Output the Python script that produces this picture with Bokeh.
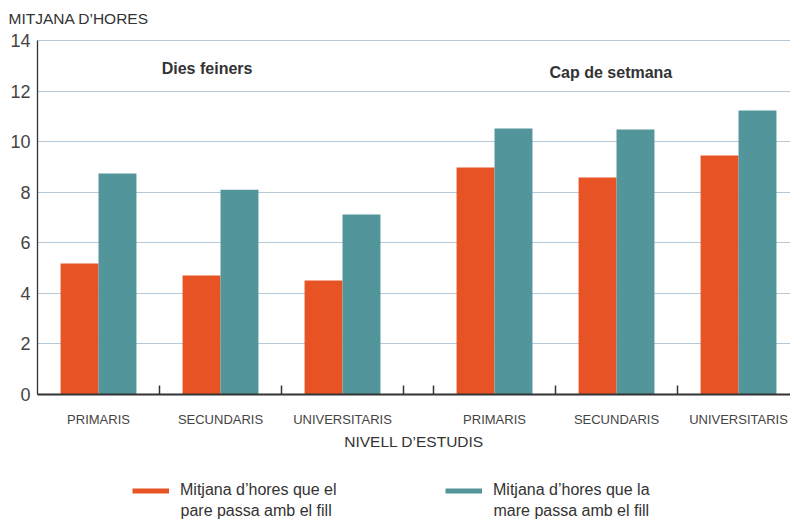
from bokeh.plotting import figure
from bokeh.models import (FixedTicker, Label, Legend, LegendItem, Range1d,
                          ColumnDataSource, LinearAxis)
from bokeh.embed import file_html
from bokeh.resources import INLINE

# ---- data ----
nivells = ["PRIMARIS", "SECUNDARIS", "UNIVERSITARIS"]
periodes = ["Dies feiners", "Cap de setmana"]
pare_feiners = [5.18, 4.71, 4.51]
mare_feiners = [8.74, 8.10, 7.12]
pare_cap = [8.98, 8.58, 9.45]
mare_cap = [10.52, 10.48, 11.23]
y_ticks = [0, 2, 4, 6, 8, 10, 12, 14]
legend_pare = ["Mitjana d\u2019hores que el", "pare passa amb el fill"]
legend_mare = ["Mitjana d\u2019hores que la", "mare passa amb el fill"]
y_title = "MITJANA D\u2019HORES"
x_title = "NIVELL D\u2019ESTUDIS"

ORANGE = "#E85325"
TEAL = "#52959A"
GRID = "#B4C9DA"
TXT = "#333333"
FONT = "Liberation Sans"

W, H = 790, 519
PX_X = 122.0      # px per category unit
PX_Y = 25.29      # px per hour
X0, Y0 = 37, 394  # pixel position of the origin
x_start = -X0 / PX_X
x_end = (W - X0) / PX_X
y_start = -(H - Y0) / PX_Y
y_end = Y0 / PX_Y

# ---- layout of categories (in category units) ----
gap = 0.246
bar_w = 0.311
n = len(nivells)
centers, boundaries = [], []
for g in range(len(periodes)):
    for i in range(n):
        centers.append(round(g * (n + gap) + i + 0.5, 4))
        b = round(g * (n + gap) + i, 4)
        if b > 0:
            boundaries.append(b)
boundaries.append(float(n))
boundaries = sorted(set(boundaries))

pare = pare_feiners + pare_cap
mare = mare_feiners + mare_cap
src = ColumnDataSource(dict(
    xp=[c - bar_w / 2 for c in centers],
    xm=[c + bar_w / 2 for c in centers],
    pare=pare, mare=mare))

p = figure(width=W, height=H, output_backend="svg", toolbar_location=None,
           x_range=Range1d(x_start, x_end), y_range=Range1d(y_start, y_end),
           min_border=0, min_border_left=0, min_border_right=0,
           min_border_top=0, min_border_bottom=0)
p.title.visible = False
p.outline_line_color = None
p.background_fill_color = "white"

# ---- grid ----
p.xgrid.grid_line_color = None
yg = p.ygrid[0]
yg.ticker = FixedTicker(ticks=y_ticks)
if "cross_bounds" in type(yg).properties():
    yg.grid_line_color = GRID
    yg.grid_line_width = 1.2
    yg.cross_bounds = (0, x_end)
else:
    yg.grid_line_color = None
    p.segment(x0=[0] * len(y_ticks), y0=y_ticks, x1=[x_end] * len(y_ticks),
              y1=y_ticks, line_color=GRID, line_width=1.2, level="underlay")

p.vbar(x="xp", top="pare", width=bar_w, source=src, fill_color=ORANGE,
       line_color=None)
p.vbar(x="xm", top="mare", width=bar_w, source=src, fill_color=TEAL,
       line_color=None)

# ---- y axis ----
ya = p.yaxis[0]
ya.fixed_location = 0
ya.bounds = (0, 14)
ya.ticker = FixedTicker(ticks=y_ticks)
ya.major_tick_line_color = None
ya.major_tick_in = 0
ya.major_tick_out = 0
ya.minor_tick_line_color = None
ya.axis_line_color = TXT
ya.axis_line_width = 1.3
ya.major_label_text_font = FONT
ya.major_label_text_font_size = "18px"
ya.major_label_text_color = "#444444"
ya.major_label_standoff = 7

# ---- x axis: line + category boundary ticks ----
xa = p.xaxis[0]
xa.fixed_location = 0
xa.bounds = (0, x_end)
xa.ticker = FixedTicker(ticks=boundaries)
xa.major_label_overrides = {b: "" for b in boundaries}
xa.major_tick_in = 9
xa.major_tick_out = 0
xa.major_tick_line_color = TXT
xa.major_tick_line_width = 1.5
xa.minor_tick_line_color = None
xa.axis_line_color = TXT
xa.axis_line_width = 2

# ---- x axis: category labels ----
xl = LinearAxis(fixed_location=0, bounds=(0, x_end),
                ticker=FixedTicker(ticks=centers),
                major_label_overrides={c: nivells[i % n] for i, c in enumerate(centers)},
                axis_line_color=None, major_tick_line_color=None,
                minor_tick_line_color=None, major_tick_in=0, major_tick_out=0,
                major_label_text_font=FONT, major_label_text_font_size="13px",
                major_label_text_color="#444444", major_label_standoff=17,
                axis_label=x_title, axis_label_text_font=FONT,
                axis_label_text_font_style="normal",
                axis_label_text_font_size="15.5px", axis_label_text_color=TXT,
                axis_label_standoff=3)
p.add_layout(xl, "below")

# ---- texts ----
p.add_layout(Label(x=(8 - X0) / PX_X, y=14 + 22 / PX_Y, text=y_title,
                   text_font=FONT, text_font_size="15.5px", text_color=TXT,
                   text_baseline="middle", text_align="left"))
p.add_layout(Label(x=1.39, y=14 - 28 / PX_Y, text=periodes[0], text_font=FONT,
                   text_font_size="16px", text_font_style="bold", text_color=TXT,
                   text_baseline="middle", text_align="center"))
p.add_layout(Label(x=4.70, y=14 - 32 / PX_Y, text=periodes[1], text_font=FONT,
                   text_font_size="16px", text_font_style="bold", text_color=TXT,
                   text_baseline="middle", text_align="center"))

# ---- legend ----
nan = float("nan")
r_p = p.line(x=[nan], y=[nan], line_color=ORANGE, line_width=5)
r_m = p.line(x=[nan], y=[nan], line_color=TEAL, line_width=5)
for r, lab, gx in [(r_p, legend_pare, 132), (r_m, legend_mare, 445)]:
    lg = Legend(items=[LegendItem(label=lab[0], renderers=[r])],
                location=(gx, 19.5), orientation="vertical",
                glyph_width=37, glyph_height=11, label_height=19,
                label_standoff=11, padding=0, margin=0, spacing=0,
                border_line_color=None, background_fill_alpha=0,
                label_text_font=FONT, label_text_font_size="16px",
                label_text_color=TXT)
    p.add_layout(lg, "center")
    p.add_layout(Label(x=(gx + 48 - X0) / PX_X, y=-(510 - Y0) / PX_Y, text=lab[1],
                       text_font=FONT, text_font_size="16px", text_color=TXT,
                       text_baseline="middle", text_align="left"))

open("out.html", "w").write(file_html(p, INLINE))
